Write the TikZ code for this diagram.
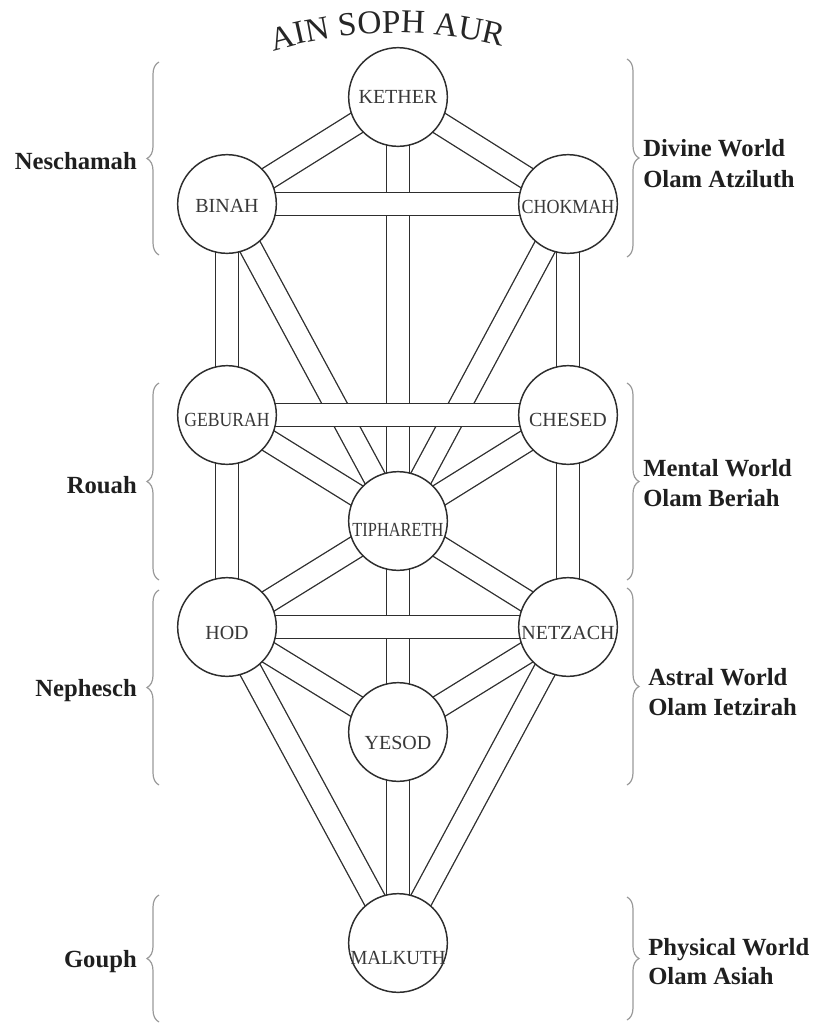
\documentclass[tikz,border=0pt]{standalone}
\usepackage{fontspec}
\usepackage{graphicx}
\setmainfont{Liberation Serif}
\usetikzlibrary{decorations.pathreplacing,decorations.text,calc}
\pgfdeclarelayer{bg}
\pgfsetlayers{bg,main}
\begin{document}
\begin{tikzpicture}[x=0.75pt,y=-0.75pt,
  sef/.style={circle, draw=black!82, line width=1.1pt, fill=white, minimum size=74pt, inner sep=0pt},
  lab/.style={font=\fontsize{15}{15}\selectfont, text=black!78, inner sep=0pt},
  strip/.style={draw=black!82, line width=1pt, double=white, double distance=15.9pt},
  bracestyle/.style={draw=black!40, line width=0.9pt, decorate, decoration={brace, amplitude=9pt}},
  side/.style={font=\fontsize{18.5}{22.5}\selectfont\bfseries, text=black!88, inner sep=0pt}
]
\useasboundingbox (0,0) rectangle (816,1025);

% Sephiroth
\node[sef, label={[lab]center:KETHER}] (K) at (398,97) {};
\node[sef, label={[lab,yshift=-1.5pt]center:BINAH}] (Bi) at (227,204) {};
\node[sef, label={[lab,yshift=-2.2pt]center:\scalebox{0.9}[1]{CHOKMAH}}] (Ch) at (568,204) {};
\node[sef, label={[lab,yshift=-3.7pt]center:\scalebox{0.88}[1]{GEBURAH}}] (G) at (227,415) {};
\node[sef, label={[lab,yshift=-3.7pt]center:CHESED}] (Che) at (568,415) {};
\node[sef, label={[lab,yshift=-6.7pt]center:\scalebox{0.82}[1]{TIPHARETH}}] (T) at (398,521) {};
\node[sef, label={[lab,yshift=-4.5pt]center:HOD}] (H) at (227,627) {};
\node[sef, label={[lab,yshift=-4.5pt]center:NETZACH}] (N) at (568,627) {};
\node[sef, label={[lab,yshift=-8.2pt]center:YESOD}] (Y) at (398,732) {};
\node[sef, label={[lab,yshift=-11.2pt]center:\scalebox{0.95}[1]{MALKUTH}}] (M) at (398,943) {};

% Paths
\begin{pgfonlayer}{bg}
\draw[strip] (K.center) -- (Bi.center);
\draw[strip] (K.center) -- (Ch.center);
\draw[strip] (K.center) -- (T.center);
\draw[strip] (T.center) -- (Y.center);
\draw[strip] (Y.center) -- (M.center);
\draw[strip] (Bi.center) -- (G.center);
\draw[strip] (Bi.center) -- (T.center);
\draw[strip] (Ch.center) -- (Che.center);
\draw[strip] (Ch.center) -- (T.center);
\draw[strip] (G.center) -- (T.center);
\draw[strip] (G.center) -- (H.center);
\draw[strip] (Che.center) -- (T.center);
\draw[strip] (Che.center) -- (N.center);
\draw[strip] (T.center) -- (H.center);
\draw[strip] (T.center) -- (N.center);
\draw[strip] (H.center) -- (Y.center);
\draw[strip] (H.center) -- (M.center);
\draw[strip] (N.center) -- (Y.center);
\draw[strip] (N.center) -- (M.center);
\draw[strip] (Bi.center) -- (Ch.center);
\draw[strip] (G.center) -- (Che.center);
\draw[strip] (H.center) -- (N.center);
\end{pgfonlayer}

% Title
\path[decorate, decoration={text along path, text align=center,
  text={|\fontsize{25}{25}\selectfont\color{black!85}|AIN SOPH AUR}}]
  (397.4,460.6) ++(-126.3:427.6) arc[start angle=-126.3, end angle=-56.3, radius=427.6];

% Left braces
\draw[bracestyle] (159,255) -- (159,62);
\draw[bracestyle] (159,580) -- (159,383);
\draw[bracestyle] (159,785) -- (159,590);
\draw[bracestyle] (159,1022) -- (159,895);
% Right braces
\draw[bracestyle] (627,59) -- (627,257);
\draw[bracestyle] (627,383) -- (627,580);
\draw[bracestyle] (627,588) -- (627,785);
\draw[bracestyle] (627,897) -- (627,1020);

% Left labels
\node[side, anchor=base east] (nes) at (137,169) {Neschamah};
\node[side, anchor=base east] (rou) at (137,493) {Rouah};
\node[side, anchor=base east] (nep) at (137,696) {Nephesch};
\node[side, anchor=base east] (gou) at (137,967) {Gouph};

% Right labels
\node[side, anchor=base west] (div1) at (643,156) {Divine World};
\node[side, anchor=base west] (div2) at (643,187) {Olam Atziluth};
\node[side, anchor=base west] (men1) at (643,476) {Mental World};
\node[side, anchor=base west] (men2) at (643,506) {Olam Beriah};
\node[side, anchor=base west] (ast1) at (648,685) {Astral World};
\node[side, anchor=base west] (ast2) at (648,715) {Olam Ietzirah};
\node[side, anchor=base west] (phy1) at (648,955) {Physical World};
\node[side, anchor=base west] (phy2) at (648,984) {Olam Asiah};
\end{tikzpicture}
\end{document}
